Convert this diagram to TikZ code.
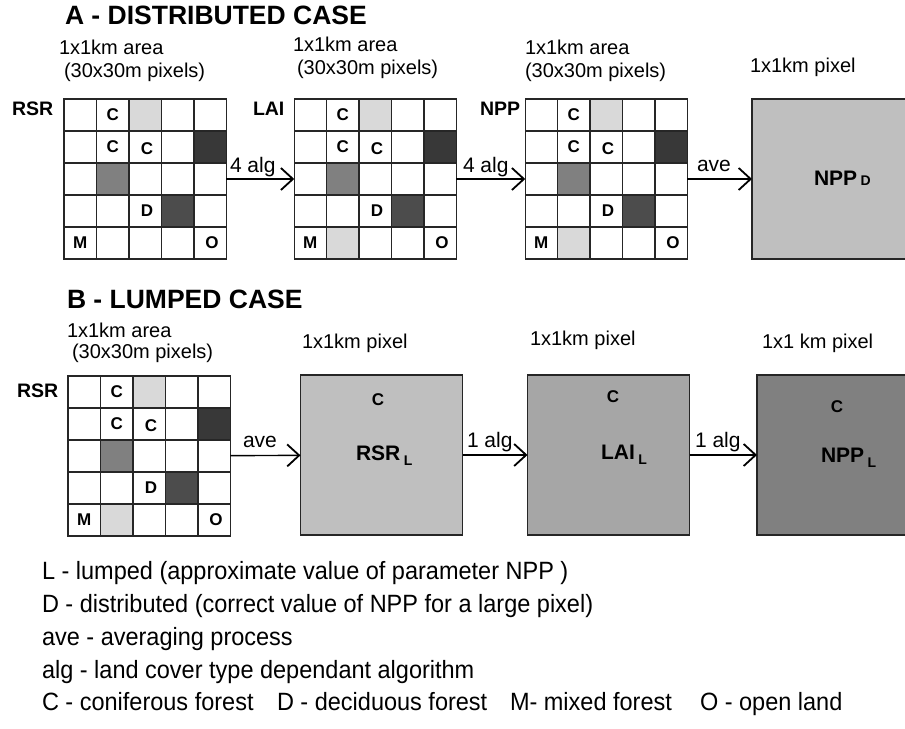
\documentclass[tikz,border=0pt]{standalone}
\usepackage{fontspec}
\setmainfont{Liberation Sans}
\newfontfamily\narrowfont[FakeStretch=0.94]{Liberation Sans}
\usetikzlibrary{arrows.meta}

\begin{document}
\begin{tikzpicture}[x=1bp,y=-1bp]
\tikzstyle{every node}=[inner sep=0pt, outer sep=0pt]
\tikzstyle{title}=[anchor=base west, font=\fontsize{26.5bp}{30bp}\selectfont\bfseries]
\tikzstyle{caption}=[anchor=base west, font=\fontsize{20bp}{24bp}\selectfont]
\tikzstyle{side}=[anchor=base west, font=\fontsize{19.5bp}{22bp}\selectfont\bfseries]
\tikzstyle{cover}=[font=\fontsize{17bp}{20bp}\selectfont\bfseries]
\tikzstyle{tag}=[anchor=base west, font=\fontsize{21bp}{24bp}\selectfont]
\tikzstyle{value}=[anchor=base west, font=\fontsize{21bp}{24bp}\selectfont\bfseries]
\tikzstyle{pixel}=[draw=black!85, line width=1.5bp, rectangle, minimum width=162bp, minimum height=160bp]
\tikzstyle{cellline}=[draw=black!85, line width=1.5bp]
\tikzstyle{flow}=[line width=1.4bp, -{Straight Barb[length=12bp,width=22bp,line width=1.8bp]}]
\tikzstyle{legend}=[anchor=base west, font=\narrowfont\fontsize{25bp}{30bp}\selectfont]
\useasboundingbox (0,0) rectangle (905,729);
\clip (0,0) rectangle (905,729);
\node (ta) at (65,25) [title] {A - DISTRIBUTED CASE};
\node (tb) at (67,308) [title] {B - LUMPED CASE};
\foreach \gx/\gy/\g/\mix in {64/99/rsr/white, 294/99/lai/black!15, 525/99/npp/black!15, 68/376/rsrb/black!15} {
  \begin{scope}[shift={(\gx,\gy)}]
  \fill[black!15] (65,0) rectangle (97.5,32);
  \fill[black!78] (130,32) rectangle (162.5,64);
  \fill[black!50] (32.5,64) rectangle (65,96);
  \fill[black!70] (97.5,96) rectangle (130,128);
  \fill[\mix] (32.5,128) rectangle (65,160);
  \foreach \i in {1,...,4} {
    \draw[cellline] (\i*32.5,0) -- (\i*32.5,160);
    \draw[cellline] (0,\i*32) -- (162.5,\i*32);
  }
  \node (\g) at (81.25,80) [pixel] {};
  \node (\g-c1) at (48.75,16) [cover] {C};
  \node (\g-c2) at (48.75,48) [cover] {C};
  \node (\g-c3) at (83,50) [cover] {C};
  \node (\g-d) at (83,112) [cover] {D};
  \node (\g-m) at (16.25,144) [cover] {M};
  \node (\g-o) at (148,144) [cover] {O};
  \end{scope}
}
\node (nppd) at (833,179) [pixel, fill=black!25] {};
\node (rsrl) at (381.5,455) [pixel, fill=black!25] {};
\node (lail) at (608.5,455) [pixel, fill=black!35] {};
\node (nppl) at (838,455) [pixel, fill=black!50] {};
\node (s1) at (12,116) [side] {RSR};
\node (s2) at (253,116) [side] {LAI};
\node (s3) at (480,116) [side] {NPP};
\node (s4) at (17,397) [side] {RSR};
\node (a1) at (59,55) [caption] {1x1km area};
\node (a2) at (64,78) [caption] {(30x30m pixels)};
\node (a3) at (293,52) [caption] {1x1km area};
\node (a4) at (297,75) [caption] {(30x30m pixels)};
\node (a5) at (525,55) [caption] {1x1km area};
\node (a6) at (525,78) [caption] {(30x30m pixels)};
\node (a7) at (750,73) [caption] {1x1km pixel};
\node (b1) at (67,337) [caption] {1x1km area};
\node (b2) at (72,358) [caption] {(30x30m pixels)};
\node (b3) at (302,348) [caption] {1x1km pixel};
\node (b4) at (530,345) [caption] {1x1km pixel};
\node (b5) at (762,348) [caption] {1x1 km pixel};
\node (vd) at (814,185) [value] {NPP\,\fontsize{14bp}{14bp}\selectfont D};
\node (vr) at (356,460) [value] {RSR\,\raisebox{-5bp}{\fontsize{14bp}{14bp}\selectfont L}};
\node (vl) at (601,459) [value] {LAI\,\raisebox{-5bp}{\fontsize{14bp}{14bp}\selectfont L}};
\node (vn) at (821,462) [value] {NPP\,\raisebox{-5bp}{\fontsize{14bp}{14bp}\selectfont L}};
\node (cr) at (378,400) [cover] {C};
\node (cl) at (613,397) [cover] {C};
\node (cn) at (837,407) [cover] {C};
\draw[flow] (rsr) -- (lai);
\draw[flow] (lai) -- (npp);
\draw[flow] (npp) -- (nppd);
\draw[flow] (rsrb) -- (rsrl);
\draw[flow] (rsrl) -- (lail);
\draw[flow] (lail) -- (nppl);
\node (f1) at (230,173) [tag] {4 alg};
\node (f2) at (463,173) [tag] {4 alg};
\node (f3) at (697,172) [tag] {ave};
\node (f4) at (243,447) [tag] {ave};
\node (f5) at (467,447) [tag] {1 alg};
\node (f6) at (695,447) [tag] {1 alg};
\node (l1) at (42,579) [legend] {L - lumped (approximate value of parameter NPP )};
\node (l2) at (42,612) [legend] {D - distributed (correct value of NPP for a large pixel)};
\node (l3) at (42,645) [legend] {ave - averaging process};
\node (l4) at (42,678) [legend] {alg - land cover type dependant algorithm};
\node (l5) at (42,710) [legend] {C - coniferous forest};
\node (l6) at (277,710) [legend] {D - deciduous forest};
\node (l7) at (510,710) [legend] {M- mixed forest};
\node (l8) at (700,710) [legend] {O - open land};
\end{tikzpicture}
\end{document}
